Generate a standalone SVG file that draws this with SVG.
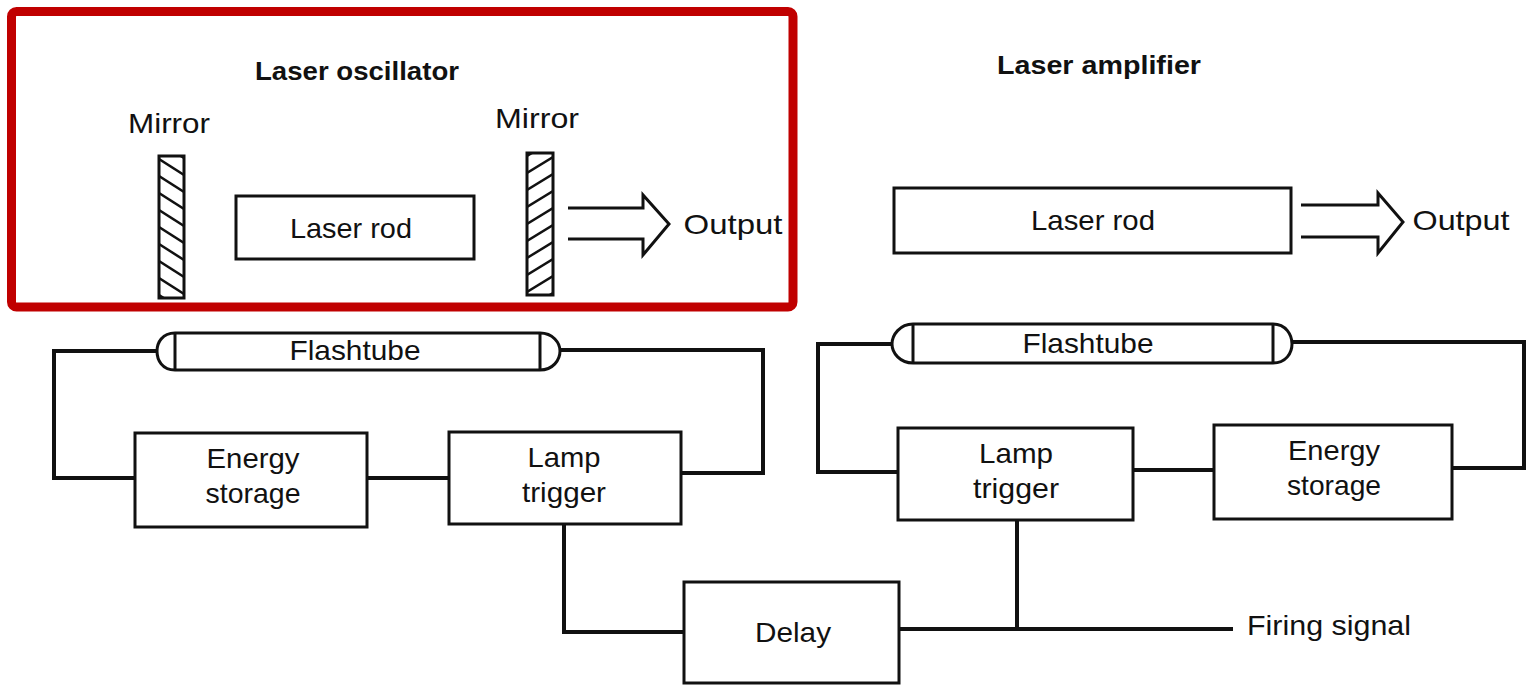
<svg xmlns="http://www.w3.org/2000/svg" width="1539" height="699" viewBox="0 0 1539 699">
<style>
  .bg { fill: #ffffff; }
  .frame { fill: none; stroke: #c00000; stroke-width: 9; }
  .box { fill: #ffffff; stroke: #111111; stroke-width: 3; }
  .wire { fill: none; stroke: #111111; stroke-width: 4; stroke-linejoin: miter; }
  .thin { fill: none; stroke: #111111; stroke-width: 3; stroke-linejoin: miter; }
  .hatch { stroke: #111111; stroke-width: 2.5; }
  .lbl { font-family: "Liberation Sans", Arial, sans-serif; font-size: 28px; fill: #111111; text-anchor: middle; }
  .title { font-family: "Liberation Sans", Arial, sans-serif; font-size: 26px; font-weight: bold; fill: #111111; text-anchor: middle; }
</style>
<defs>
  <clipPath id="clipML"><rect x="159" y="156" width="25" height="142"/></clipPath>
  <clipPath id="clipMR"><rect x="527" y="153" width="26" height="142"/></clipPath>
</defs>
<rect class="bg" x="0" y="0" width="1539" height="699"/>

<g id="oscillator-frame">
  <rect class="frame" x="11.5" y="11.5" width="781.5" height="295.5" rx="5"/>
</g>

<g id="title-oscillator">
  <text class="title" x="357" y="80" textLength="204" lengthAdjust="spacingAndGlyphs">Laser oscillator</text>
</g>
<g id="title-amplifier">
  <text class="title" x="1099" y="74" textLength="204" lengthAdjust="spacingAndGlyphs">Laser amplifier</text>
</g>

<g id="mirror-left">
  <text class="lbl" x="169" y="133" textLength="82" lengthAdjust="spacingAndGlyphs">Mirror</text>
  <g clip-path="url(#clipML)">
    <line class="hatch" x1="159" y1="142" x2="184" y2="158"/>
    <line class="hatch" x1="159" y1="159" x2="184" y2="175"/>
    <line class="hatch" x1="159" y1="176" x2="184" y2="192"/>
    <line class="hatch" x1="159" y1="193" x2="184" y2="209"/>
    <line class="hatch" x1="159" y1="210" x2="184" y2="226"/>
    <line class="hatch" x1="159" y1="227" x2="184" y2="243"/>
    <line class="hatch" x1="159" y1="244" x2="184" y2="260"/>
    <line class="hatch" x1="159" y1="261" x2="184" y2="277"/>
    <line class="hatch" x1="159" y1="278" x2="184" y2="294"/>
    <line class="hatch" x1="159" y1="295" x2="184" y2="311"/>
  </g>
  <rect class="thin" x="159" y="156" width="25" height="142"/>
</g>

<g id="rod-oscillator">
  <rect class="box" x="236" y="196" width="238" height="63"/>
  <text class="lbl" x="351" y="238" textLength="122" lengthAdjust="spacingAndGlyphs">Laser rod</text>
</g>

<g id="mirror-right">
  <text class="lbl" x="537" y="128" textLength="84" lengthAdjust="spacingAndGlyphs">Mirror</text>
  <g clip-path="url(#clipMR)">
    <line class="hatch" x1="527" y1="156" x2="553" y2="140"/>
    <line class="hatch" x1="527" y1="173" x2="553" y2="157"/>
    <line class="hatch" x1="527" y1="190" x2="553" y2="174"/>
    <line class="hatch" x1="527" y1="207" x2="553" y2="191"/>
    <line class="hatch" x1="527" y1="224" x2="553" y2="208"/>
    <line class="hatch" x1="527" y1="241" x2="553" y2="225"/>
    <line class="hatch" x1="527" y1="258" x2="553" y2="242"/>
    <line class="hatch" x1="527" y1="275" x2="553" y2="259"/>
    <line class="hatch" x1="527" y1="292" x2="553" y2="276"/>
    <line class="hatch" x1="527" y1="309" x2="553" y2="293"/>
  </g>
  <rect class="thin" x="527" y="153" width="26" height="142"/>
</g>

<g id="output-oscillator">
  <path class="thin" d="M568,208 H643 V195 L669,224 L643,255 V239 H568"/>
  <text class="lbl" x="733" y="234" textLength="99" lengthAdjust="spacingAndGlyphs">Output</text>
</g>

<g id="rod-amplifier">
  <rect class="box" x="894" y="188" width="397" height="65"/>
  <text class="lbl" x="1093" y="230" textLength="124" lengthAdjust="spacingAndGlyphs">Laser rod</text>
</g>

<g id="output-amplifier">
  <path class="thin" d="M1301,205 H1378 V193 L1403,222 L1378,253 V237 H1301"/>
  <text class="lbl" x="1461" y="230" textLength="97" lengthAdjust="spacingAndGlyphs">Output</text>
</g>

<g id="connectors">
  <path class="wire" d="M157,351 H54 V478 H135"/>
  <path class="wire" d="M367,478 H449"/>
  <path class="wire" d="M560,350 H763 V473 H681"/>
  <path class="wire" d="M564,524 V632 H684"/>
  <path class="wire" d="M892,344 H818 V472 H898"/>
  <path class="wire" d="M1133,470 H1214"/>
  <path class="wire" d="M1292,342 H1524 V468 H1452"/>
  <path class="wire" d="M899,629 H1233"/>
  <path class="wire" d="M1017,521 V629"/>
</g>

<g id="flashtube-oscillator">
  <path class="thin" fill="#ffffff" d="M175,333 H540 C553,333 560,343 560,351 C560,360 553,370 540,370 H175 C162,370 157,360 157,351 C157,343 162,333 175,333 Z"/>
  <line class="thin" x1="175" y1="333" x2="175" y2="370"/>
  <line class="thin" x1="540" y1="333" x2="540" y2="370"/>
  <text class="lbl" x="355" y="360" textLength="131" lengthAdjust="spacingAndGlyphs">Flashtube</text>
</g>

<g id="energy-storage-oscillator">
  <rect class="box" x="135" y="433" width="232" height="94"/>
  <text class="lbl" x="253" y="468" textLength="93" lengthAdjust="spacingAndGlyphs">Energy</text>
  <text class="lbl" x="253" y="503" textLength="95" lengthAdjust="spacingAndGlyphs">storage</text>
</g>

<g id="lamp-trigger-oscillator">
  <rect class="box" x="449" y="432" width="232" height="92"/>
  <text class="lbl" x="564" y="467" textLength="73" lengthAdjust="spacingAndGlyphs">Lamp</text>
  <text class="lbl" x="564" y="502" textLength="84" lengthAdjust="spacingAndGlyphs">trigger</text>
</g>

<g id="delay">
  <rect class="box" x="684" y="582" width="215" height="101"/>
  <text class="lbl" x="793" y="642" textLength="76" lengthAdjust="spacingAndGlyphs">Delay</text>
</g>

<g id="flashtube-amplifier">
  <path class="thin" fill="#ffffff" d="M913,324 H1273 C1286,324 1292,335 1292,344 C1292,353 1286,363 1273,363 H913 C900,363 892,353 892,344 C892,335 900,324 913,324 Z"/>
  <line class="thin" x1="913" y1="324" x2="913" y2="363"/>
  <line class="thin" x1="1273" y1="324" x2="1273" y2="363"/>
  <text class="lbl" x="1088" y="353" textLength="131" lengthAdjust="spacingAndGlyphs">Flashtube</text>
</g>

<g id="lamp-trigger-amplifier">
  <rect class="box" x="898" y="428" width="235" height="92"/>
  <text class="lbl" x="1016" y="463" textLength="74" lengthAdjust="spacingAndGlyphs">Lamp</text>
  <text class="lbl" x="1016" y="498" textLength="86" lengthAdjust="spacingAndGlyphs">trigger</text>
</g>

<g id="energy-storage-amplifier">
  <rect class="box" x="1214" y="425" width="238" height="94"/>
  <text class="lbl" x="1334" y="460" textLength="92" lengthAdjust="spacingAndGlyphs">Energy</text>
  <text class="lbl" x="1334" y="495" textLength="94" lengthAdjust="spacingAndGlyphs">storage</text>
</g>

<g id="firing-signal">
  <text class="lbl" x="1329" y="635" textLength="164" lengthAdjust="spacingAndGlyphs">Firing signal</text>
</g>
</svg>
